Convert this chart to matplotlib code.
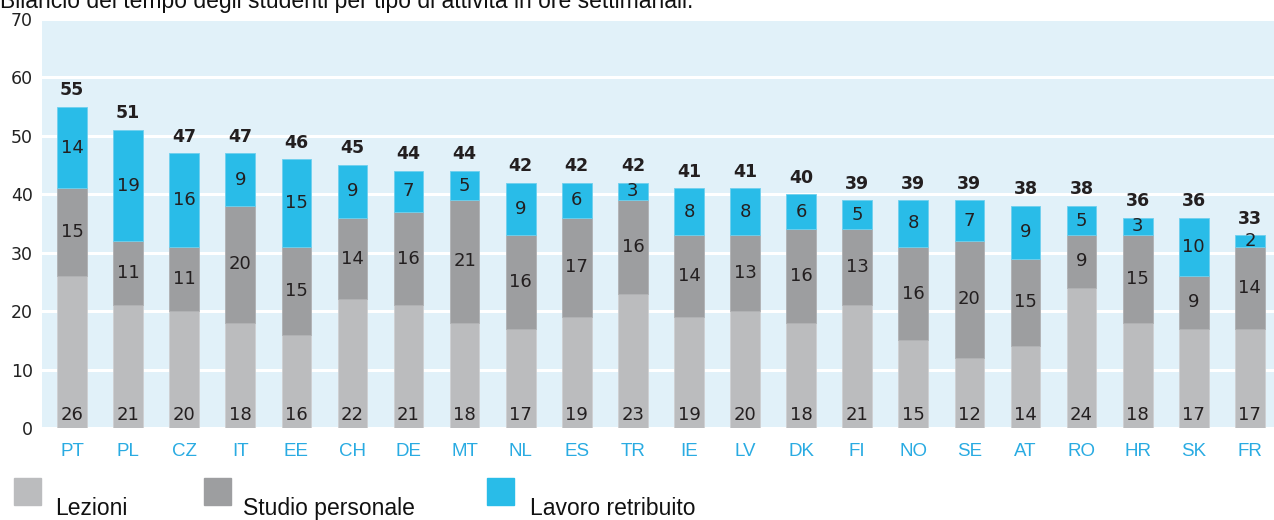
import numpy as np
import matplotlib.pyplot as plt
from matplotlib.patches import Rectangle

countries = ["PT", "PL", "CZ", "IT", "EE", "CH", "DE", "MT", "NL", "ES", "TR",
             "IE", "LV", "DK", "FI", "NO", "SE", "AT", "RO", "HR", "SK", "FR"]
lezioni = [26, 21, 20, 18, 16, 22, 21, 18, 17, 19, 23, 19, 20, 18, 21, 15, 12, 14, 24, 18, 17, 17]
studio = [15, 11, 11, 20, 15, 14, 16, 21, 16, 17, 16, 14, 13, 16, 13, 16, 20, 15, 9, 15, 9, 14]
lavoro = [14, 19, 16, 9, 15, 9, 7, 5, 9, 6, 3, 8, 8, 6, 5, 8, 7, 9, 5, 3, 10, 2]
totali = [55, 51, 47, 47, 46, 45, 44, 44, 42, 42, 42, 41, 41, 40, 39, 39, 39, 38, 38, 36, 36, 33]
yticks = [0, 10, 20, 30, 40, 50, 60, 70]
legend_labels = ["Lezioni", "Studio personale", "Lavoro retribuito"]
title = "Bilancio del tempo degli studenti per tipo di attività in ore settimanali."

c_lez = '#bbbcbe'
c_stu = '#9d9ea0'
c_lav = '#29bce8'
c_tick = '#29abe2'
bg = '#e1f1f9'

W, H = 1274, 520
fig = plt.figure(figsize=(W / 100, H / 100), dpi=100)
ax = fig.add_axes([42 / W, (H - 428) / H, 1 - 42 / W, (428 - 19) / H])
ax.set_facecolor(bg)

x = np.arange(len(countries))
lez = np.array(lezioni)
stu = np.array(studio)
lav = np.array(lavoro)
bw = 0.53
ax.bar(x, lez, bw, color=c_lez, edgecolor='#cfd0d2', linewidth=0.6, zorder=3)
ax.bar(x, stu, bw, bottom=lez, color=c_stu, edgecolor='#b0b1b3', linewidth=0.6, zorder=3)
ax.bar(x, lav, bw, bottom=lez + stu, color=c_lav, edgecolor='#6fd0ee', linewidth=0.6, zorder=3)

vfont = dict(family='DejaVu Sans', fontsize=13, color='#231f20', ha='center', zorder=4)
for i in range(len(countries)):
    ax.text(x[i], 1.4, str(lez[i]), va='baseline', **vfont)
    ax.text(x[i], lez[i] + stu[i] / 2, str(stu[i]), va='center', **vfont)
    ax.text(x[i], lez[i] + stu[i] + lav[i] / 2, str(lav[i]), va='center', **vfont)
    ax.text(x[i], totali[i] + 1.3, str(totali[i]), va='bottom', fontweight='bold',
            family='DejaVu Sans', fontsize=12.5, color='#231f20', ha='center', zorder=4)

ax.set_xlim(-0.535, len(countries) - 1 + 0.43)
ax.set_ylim(0, 70)
ax.set_yticks(yticks)
ax.set_yticklabels([str(v) for v in yticks], family='DejaVu Sans', fontsize=12.5, color='#222222')
ax.set_xticks(x)
ax.set_xticklabels(countries, family='Liberation Sans', fontsize=13.5, color=c_tick)
ax.tick_params(length=0)
ax.tick_params(axis='y', pad=6.5)
ax.tick_params(axis='x', pad=10.5)
for s in ax.spines.values():
    s.set_visible(False)
ax.yaxis.grid(True, color='white', linewidth=2.2, zorder=1)
ax.set_axisbelow(True)

# legend: square above, label below-right
sq = [(14, c_lez, 55), (204, c_stu, 243), (487, c_lav, 530)]
for (sx, col, tx), lab in zip(sq, legend_labels):
    fig.add_artist(Rectangle((sx / W, (H - 505) / H), 27 / W, 27 / H,
                             transform=fig.transFigure, color=col))
    fig.text(tx / W, (H - 515) / H, lab, family='Liberation Sans', fontsize=16.5,
             color='#111111', va='baseline', ha='left')

fig.text(0, (H - 8) / H, title, family='Liberation Sans', fontsize=16.5,
         color='#111111', va='baseline', ha='left')

fig.savefig('out.png', dpi=100, facecolor='white')
